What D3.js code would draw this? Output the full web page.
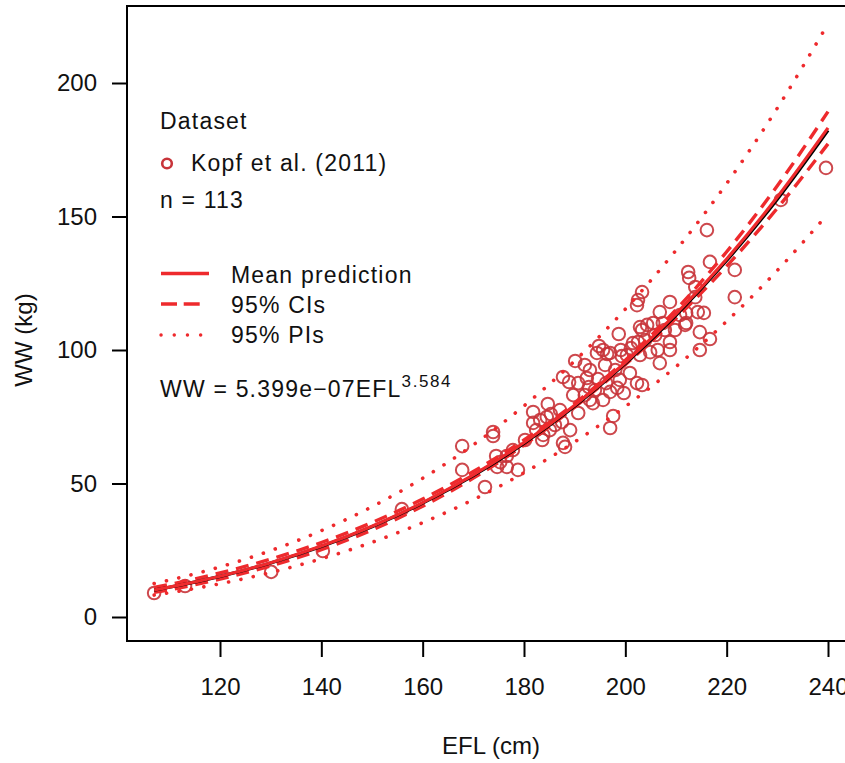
<!DOCTYPE html>
<html>
<head>
<meta charset="utf-8">
<script src="https://cdn.jsdelivr.net/npm/d3@7/dist/d3.min.js"></script>
<style>
  html, body { margin: 0; padding: 0; background: #fff; }
  svg { display: block; font-family: "Liberation Sans", Arial, sans-serif; }
</style>
</head>
<body>
<div id="chart"></div>
<script>
'use strict';

// observed points, Kopf et al. (2011): EFL (cm) / WW (kg)
var efl = [107.0, 113.1, 130.1, 140.3, 155.9, 167.8, 167.8, 172.3, 173.9, 173.9,
	174.5, 175.3, 176.6, 176.6, 178.8, 174.7, 181.8, 181.8, 182.4, 183.8,
	183.6, 184.7, 184.5, 185.3, 187.5, 187.7, 188.1, 190.7, 189.7, 193.0,
	193.6, 187.7, 188.9, 190.7, 192.4, 192.8, 194.6, 196.2, 197.0, 199.7,
	202.3, 195.6, 197.6, 197.0, 177.8, 190.1, 194.8, 196.4, 199.1, 200.3,
	201.1, 194.4, 192.0, 198.7, 204.3, 205.5, 207.4, 203.3, 211.8, 214.7,
	216.7, 214.7, 208.8, 208.8, 206.4, 204.9, 206.8, 201.5, 197.0, 195.6,
	199.3, 200.9, 203.3, 198.4, 216.1, 216.7, 212.4, 212.6, 213.8, 203.3,
	202.5, 202.3, 208.8, 213.8, 206.8, 212.0, 214.3, 215.5, 212.0, 202.9,
	202.5, 221.6, 221.6, 239.6, 230.7, 193.0, 196.0, 198.0, 202.9, 205.9,
	209.8, 187.1, 186.1, 189.1, 192.0, 198.9, 203.9, 210.8, 207.8, 194.0,
	185.1, 180.2, 183.2];
var ww = [9.0, 11.6, 16.9, 24.7, 40.4, 64.0, 55.1, 48.7, 69.3, 67.8,
	60.3, 58.0, 60.3, 56.2, 55.1, 56.2, 76.8, 72.7, 70.0, 68.2,
	66.3, 79.8, 74.9, 76.0, 73.0, 65.2, 63.7, 76.4, 83.1, 81.3,
	80.1, 89.9, 88.0, 87.6, 89.5, 86.1, 89.1, 87.6, 84.3, 83.9,
	87.6, 81.3, 75.3, 70.8, 62.5, 95.9, 101.5, 98.5, 100.0, 98.1,
	100.7, 98.9, 94.4, 106.0, 109.4, 110.1, 110.1, 107.5, 109.4, 106.7,
	104.1, 100.0, 103.0, 100.0, 100.0, 99.2, 95.1, 102.6, 98.9, 100.0,
	97.7, 91.4, 86.9, 85.8, 144.9, 133.0, 129.2, 127.0, 123.6, 121.7,
	118.7, 116.8, 118.0, 119.8, 114.2, 113.9, 114.2, 113.9, 110.1, 108.6,
	103.0, 130.0, 119.8, 168.2, 156.2, 92.5, 94.4, 92.5, 98.1, 105.6,
	107.5, 77.5, 71.9, 70.0, 83.1, 88.8, 103.7, 113.1, 107.5, 85.0,
	70.0, 66.3, 73.8];

// fitted curves, read at these EFL values
var fitEfl = [107, 110, 120, 130, 140, 150, 160, 170, 180, 190, 200, 210, 220, 230, 240];
var meanPred = [10.13, 11.19, 15.28, 20.35, 26.55, 33.99, 42.85, 53.24, 65.35, 79.31, 95.33, 113.5, 134.1, 157.3, 183.2];
var medianPred = [10.08, 11.14, 15.21, 20.25, 26.42, 33.83, 42.65, 52.99, 65.04, 78.94, 94.88, 113.0, 133.5, 156.5, 182.3];
var ciUpper = [11.1, 12.2, 16.5, 21.7, 27.9, 35.4, 44.2, 54.5, 66.3, 80.0, 96.2, 115.1, 136.8, 161.5, 189.3];
var ciLower = [9.2, 10.2, 14.2, 19.1, 25.2, 32.6, 41.5, 52.0, 64.4, 78.6, 94.5, 111.9, 131.4, 153.1, 177.2];
var piUpper = [12.52, 13.80, 18.75, 24.86, 32.33, 41.29, 51.96, 64.48, 79.08, 95.93, 115.3, 137.35, 162.35, 190.6, 222.2];
var piLower = [8.20, 9.07, 12.45, 16.66, 21.80, 27.98, 35.34, 43.96, 54.01, 65.57, 78.82, 93.80, 110.77, 129.82, 151.0];

var xTicks = [120, 140, 160, 180, 200, 220, 240];
var yTicks = [0, 50, 100, 150, 200];

main();

function main(){
	//configuration
	var width = 845,
		height = 763,
		frame = { left: 127, top: 6, bottom: 641 },
		red = '#ee2a2d',
		pointRed = '#c8343a',
		dotted = '0.1 12.5';

	var x = d3.scaleLinear().domain([120, 240]).range([220, 828]);
	var y = d3.scaleLinear().domain([0, 200]).range([617, 83]);

	var svg = d3.select('#chart')
		.append('svg')
			.attr('width', width)
			.attr('height', height);

	// points
	svg.append('g')
		.selectAll('circle')
		.data(d3.range(efl.length))
		.enter()
		.append('circle')
			.attr('cx', function(i){ return x(efl[i]); })
			.attr('cy', function(i){ return y(ww[i]); })
			.attr('r', 6.3)
			.attr('fill', 'none')
			.attr('stroke', pointRed)
			.attr('stroke-opacity', 0.9)
			.attr('stroke-width', 2);

	var line = function(vals){
		return d3.line()
			.x(function(d, i){ return x(fitEfl[i]); })
			.y(function(d){ return y(d); })
			.curve(d3.curveMonotoneX)(vals);
	};

	function curve(vals, color, dash, lw){
		svg.append('path')
			.attr('d', line(vals))
			.attr('fill', 'none')
			.attr('stroke', color)
			.attr('stroke-width', lw)
			.attr('stroke-linecap', dash === dotted ? 'round' : 'butt')
			.attr('stroke-dasharray', dash);
	}

	curve(piUpper, red, dotted, 3.6);
	curve(piLower, red, dotted, 3.6);
	curve(ciUpper, red, '13 8', 3.4);
	curve(ciLower, red, '13 8', 3.4);
	curve(medianPred, '#000', null, 3.2);
	curve(meanPred, red, null, 3.2);

	// frame (box runs off the right edge)
	svg.append('path')
		.attr('d', 'M' + (width + 5) + ',' + frame.top + 'H' + frame.left + 'V' + frame.bottom + 'H' + (width + 5))
		.attr('fill', 'none')
		.attr('stroke', '#000')
		.attr('stroke-width', 2);

	// axes
	var xAxis = svg.append('g')
		.attr('transform', 'translate(0,' + frame.bottom + ')')
		.call(d3.axisBottom(x).tickValues(xTicks).tickSize(16).tickSizeOuter(0).tickPadding(21));
	var yAxis = svg.append('g')
		.attr('transform', 'translate(' + frame.left + ',0)')
		.call(d3.axisLeft(y).tickValues(yTicks).tickSize(15).tickSizeOuter(0).tickPadding(15));

	[xAxis, yAxis].forEach(function(a){
		a.select('.domain').remove();
		a.selectAll('line').attr('stroke', '#000').attr('stroke-width', 2);
		a.selectAll('text')
			.attr('fill', '#111')
			.style('font-size', '24px')
			.style('font-family', '"Liberation Sans", Arial, sans-serif');
	});

	// axis titles
	svg.append('text')
		.attr('x', 491)
		.attr('y', 754)
		.attr('text-anchor', 'middle')
		.style('font-size', '24px')
		.attr('fill', '#111')
		.text('EFL (cm)');

	svg.append('text')
		.attr('transform', 'translate(32,340) rotate(-90)')
		.attr('text-anchor', 'middle')
		.style('font-size', '24px')
		.attr('fill', '#111')
		.text('WW (kg)');

	// legend
	var leg = svg.append('g')
		.style('font-size', '23px')
		.style('letter-spacing', '1.2px')
		.attr('fill', '#111');

	leg.append('text').attr('x', 160).attr('y', 129).text('Dataset');
	leg.append('circle')
		.attr('cx', 167).attr('cy', 163.5).attr('r', 4.8)
		.attr('fill', 'none').attr('stroke', pointRed).attr('stroke-width', 2.6);
	leg.append('text').attr('x', 191).attr('y', 171).text('Kopf et al. (2011)');
	leg.append('text').attr('x', 160).attr('y', 208).text('n = 113');

	var keys = [
		{ label: 'Mean prediction', dash: null, ly: 273.5, ty: 283 },
		{ label: '95% CIs', dash: '16 6.7 16 100', ly: 304, ty: 313 },
		{ label: '95% PIs', dash: '0.1 13.1', ly: 335, ty: 343 }
	];
	keys.forEach(function(k){
		leg.append('line')
			.attr('x1', 161).attr('x2', 209)
			.attr('y1', k.ly).attr('y2', k.ly)
			.attr('stroke', red)
			.attr('stroke-width', 3.4)
			.attr('stroke-linecap', k.dash === '0.1 13.1' ? 'round' : 'butt')
			.attr('stroke-dasharray', k.dash);
		leg.append('text').attr('x', 231).attr('y', k.ty).text(k.label);
	});

	var eq = leg.append('text').attr('x', 160).attr('y', 397);
	eq.append('tspan').text('WW = 5.399e\u221207EFL');
	eq.append('tspan')
		.attr('dy', -10)
		.style('font-size', '17px')
		.style('letter-spacing', '1.6px')
		.text('3.584');
}
</script>
</body>
</html>
